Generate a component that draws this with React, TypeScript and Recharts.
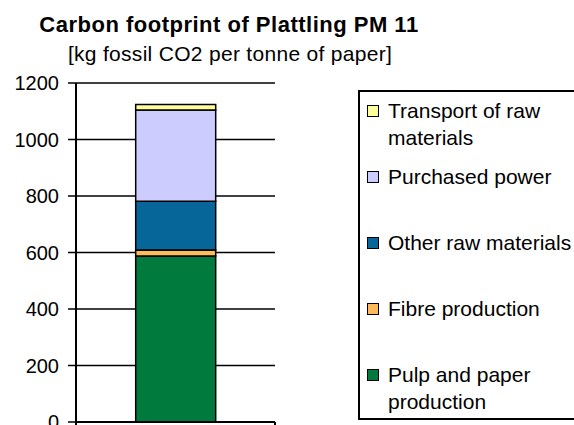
import {
  Bar,
  BarChart,
  CartesianGrid,
  Legend,
  XAxis,
  YAxis,
} from "recharts";

const CATEGORIES = ["Plattling PM 11"];
const SERIES = [
  "Pulp and paper production",
  "Fibre production",
  "Other raw materials",
  "Purchased power",
  "Transport of raw materials",
];
const COLORS = ["#007A3D", "#FFBA5C", "#066699", "#CCCCFF", "#FFFF99"];
const PULP = [588];
const FIBRE = [21];
const OTHER_RAW = [172];
const POWER = [323];
const TRANSPORT = [20];
const Y_TICKS = [0, 200, 400, 600, 800, 1000, 1200];

const VALUES = [PULP, FIBRE, OTHER_RAW, POWER, TRANSPORT];

const data = CATEGORIES.map((name, i) => {
  const row: Record<string, string | number> = { name };
  SERIES.forEach((s, k) => {
    row[s] = VALUES[k][i];
  });
  return row;
});

const FONT = "'Liberation Sans', Arial, sans-serif";

// band edge ticks hanging below the x axis
function EdgeTicks(props: any) {
  const { x, y, payload } = props;
  const half = payload?.offset ?? 0;
  return (
    <g>
      <line x1={x - half} x2={x - half} y1={y - 8} y2={y} stroke="#000" strokeWidth={2} />
      <line x1={x + half} x2={x + half} y1={y - 8} y2={y} stroke="#000" strokeWidth={2} />
    </g>
  );
}

function LegendBox(props: any) {
  const payload: any[] = props.payload ?? [];
  // top of the stack first, like the original legend
  const items = [...SERIES].reverse().map((s) => {
    const p = payload.find((x) => x.value === s);
    return { value: s, color: p?.color ?? COLORS[SERIES.indexOf(s)] };
  });
  return (
    <div
      style={{
        boxSizing: "border-box",
        width: "100%",
        height: "100%",
        border: "2px solid #000",
        background: "#fff",
        paddingTop: 5,
        fontFamily: FONT,
        fontSize: 21,
        color: "#000",
      }}
    >
      {items.map((it) => (
        <div key={it.value} style={{ display: "flex", height: 66, alignItems: "flex-start" }}>
          <span
            style={{
              boxSizing: "border-box",
              width: 12,
              height: 12,
              marginLeft: 7,
              marginTop: 8,
              border: "1.5px solid #000",
              background: it.color,
              flex: "none",
            }}
          />
          <span style={{ marginLeft: 9, width: 205, lineHeight: "27px" }}>{it.value}</span>
        </div>
      ))}
    </div>
  );
}

export default function App() {
  return (
    <div
      style={{
        position: "absolute",
        left: 0,
        top: 0,
        width: 574,
        height: 425,
        overflow: "hidden",
        background: "#fff",
        fontFamily: FONT,
      }}
    >
      <div
        style={{
          position: "absolute",
          left: 0,
          width: 458,
          top: 12,
          textAlign: "center",
          fontWeight: "bold",
          fontSize: 22,
          letterSpacing: 0.5,
          lineHeight: "26px",
        }}
      >
        Carbon footprint of Plattling PM 11
      </div>
      <div
        style={{
          position: "absolute",
          left: 0,
          width: 460,
          top: 41,
          textAlign: "center",
          fontSize: 21,
          letterSpacing: 0.3,
          lineHeight: "26px",
        }}
      >
        [kg fossil CO2 per tonne of paper]
      </div>
      <div style={{ position: "absolute", left: 0, top: 0 }}>
        <BarChart
          width={574}
          height={460}
          data={data}
          margin={{ top: 83, right: 299, bottom: 8, left: 0 }}
          barCategoryGap="30%"
        >
          <CartesianGrid vertical={false} stroke="#000" strokeWidth={1.5} />
          <XAxis
            dataKey="name"
            axisLine={{ stroke: "#000", strokeWidth: 2 }}
            tickLine={false}
            tick={<EdgeTicks />}
            height={30}
            interval={0}
          />
          <YAxis
            domain={[0, 1200]}
            ticks={Y_TICKS}
            interval={0}
            width={76}
            tickSize={8}
            tickMargin={9}
            axisLine={{ stroke: "#000", strokeWidth: 2 }}
            tickLine={{ stroke: "#000", strokeWidth: 1.5 }}
            tick={{ fill: "#000", fontSize: 20, fontFamily: FONT }}
          />
          <YAxis
            yAxisId="r"
            orientation="right"
            domain={[0, 1200]}
            width={0}
            tick={false}
            tickLine={false}
            axisLine={{ stroke: "#000", strokeWidth: 2 }}
          />
          {SERIES.map((s, k) => (
            <Bar
              key={s}
              dataKey={s}
              stackId="a"
              fill={COLORS[k]}
              stroke="#000"
              strokeWidth={1.5}
              isAnimationActive={false}
            />
          ))}
          <Legend
            layout="vertical"
            align="center"
            verticalAlign="middle"
            content={<LegendBox />}
            wrapperStyle={{ left: 358, top: 90, width: 240, height: 330 }}
          />
        </BarChart>
      </div>
    </div>
  );
}
